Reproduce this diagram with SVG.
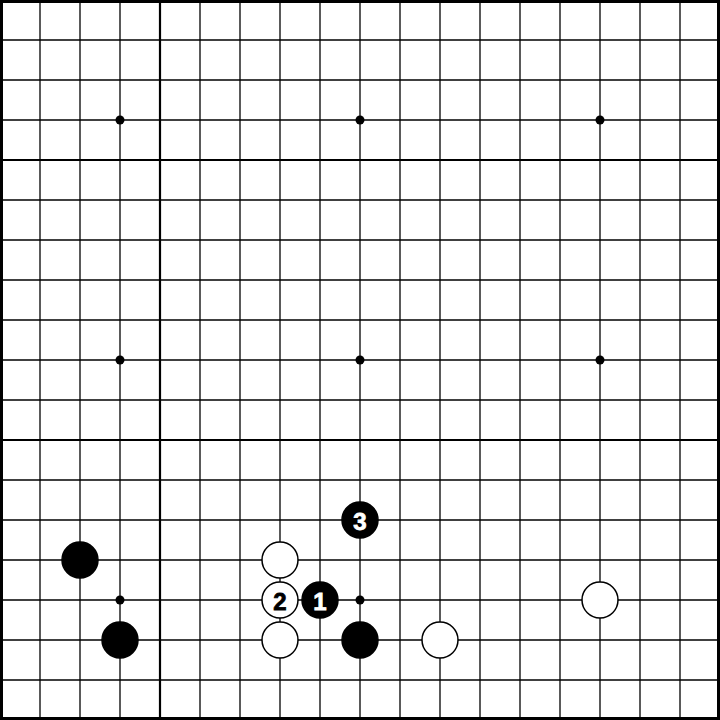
<svg xmlns="http://www.w3.org/2000/svg" width="720" height="720" viewBox="0 0 720 720">
<style>
.g line{stroke:#000;stroke-width:1.3}
.g .t{stroke-width:2.2}
.e{fill:none;stroke:#000;stroke-width:3}
.star{fill:#000}
.b{fill:#000;stroke:#000;stroke-width:1.5}
.w{fill:#fff;stroke:#000;stroke-width:1.5}
.lb{font-family:"Liberation Sans",Arial,sans-serif;font-weight:bold;font-size:24px;text-anchor:middle;dominant-baseline:central;stroke-width:0.8}
</style>
<rect width="720" height="720" fill="#fff"/>
<g id="connectors" class="g">
<line x1="40" y1="0" x2="40" y2="720"/><line x1="80" y1="0" x2="80" y2="720"/><line x1="120" y1="0" x2="120" y2="720"/><line class="t" x1="160" y1="0" x2="160" y2="720"/><line x1="200" y1="0" x2="200" y2="720"/><line x1="240" y1="0" x2="240" y2="720"/><line x1="280" y1="0" x2="280" y2="720"/><line x1="320" y1="0" x2="320" y2="720"/><line x1="360" y1="0" x2="360" y2="720"/><line x1="400" y1="0" x2="400" y2="720"/><line x1="440" y1="0" x2="440" y2="720"/><line x1="480" y1="0" x2="480" y2="720"/><line x1="520" y1="0" x2="520" y2="720"/><line x1="560" y1="0" x2="560" y2="720"/><line x1="600" y1="0" x2="600" y2="720"/><line x1="640" y1="0" x2="640" y2="720"/><line x1="680" y1="0" x2="680" y2="720"/>
<line x1="0" y1="40" x2="720" y2="40"/><line x1="0" y1="80" x2="720" y2="80"/><line x1="0" y1="120" x2="720" y2="120"/><line class="t" x1="0" y1="160" x2="720" y2="160"/><line x1="0" y1="200" x2="720" y2="200"/><line x1="0" y1="240" x2="720" y2="240"/><line x1="0" y1="280" x2="720" y2="280"/><line x1="0" y1="320" x2="720" y2="320"/><line x1="0" y1="360" x2="720" y2="360"/><line x1="0" y1="400" x2="720" y2="400"/><line class="t" x1="0" y1="440" x2="720" y2="440"/><line x1="0" y1="480" x2="720" y2="480"/><line x1="0" y1="520" x2="720" y2="520"/><line x1="0" y1="560" x2="720" y2="560"/><line x1="0" y1="600" x2="720" y2="600"/><line x1="0" y1="640" x2="720" y2="640"/><line x1="0" y1="680" x2="720" y2="680"/>
<rect class="e" x="1.5" y="1.5" width="717" height="717"/>
</g>
<g id="stars">
<circle class="star" cx="120" cy="120" r="4.5"/><circle class="star" cx="360" cy="120" r="4.5"/><circle class="star" cx="600" cy="120" r="4.5"/>
<circle class="star" cx="120" cy="360" r="4.5"/><circle class="star" cx="360" cy="360" r="4.5"/><circle class="star" cx="600" cy="360" r="4.5"/>
<circle class="star" cx="120" cy="600" r="4.5"/><circle class="star" cx="360" cy="600" r="4.5"/><circle class="star" cx="600" cy="600" r="4.5"/>
</g>
<g id="b1"><circle class="b" cx="80" cy="560" r="18"/></g>
<g id="b2"><circle class="b" cx="120" cy="640" r="18"/></g>
<g id="b3"><circle class="b" cx="360" cy="640" r="18"/></g>
<g id="w1"><circle class="w" cx="280" cy="560" r="18"/></g>
<g id="w2"><circle class="w" cx="280" cy="640" r="18"/></g>
<g id="w3"><circle class="w" cx="440" cy="640" r="18"/></g>
<g id="w4"><circle class="w" cx="600" cy="600" r="18"/></g>
<g id="m1"><circle class="b" cx="320" cy="600" r="18"/><text class="lb" x="320" y="601" fill="#fff" stroke="#fff">1</text></g>
<g id="m2"><circle class="w" cx="280" cy="600" r="18"/><text class="lb" x="280" y="601" fill="#000" stroke="#000">2</text></g>
<g id="m3"><circle class="b" cx="360" cy="520" r="18"/><text class="lb" x="360" y="521" fill="#fff" stroke="#fff">3</text></g>
</svg>
